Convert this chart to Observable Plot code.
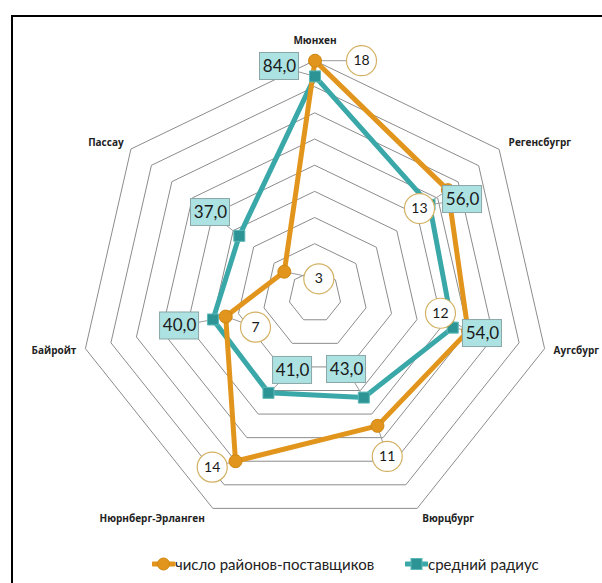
<!DOCTYPE html>
<html>
<head>
<meta charset="utf-8">
<script src="https://cdn.jsdelivr.net/npm/d3@7"></script>
<script src="https://cdn.jsdelivr.net/npm/@observablehq/plot@0.6"></script>
<style>
  html, body { margin: 0; padding: 0; background: #fff; }
  #wrap { position: relative; width: 602px; height: 583px; overflow: hidden; background: #fff; }
  #frame { position: absolute; left: 11px; top: 15px; width: 640px; height: 640px; border: 2px solid #000; box-sizing: border-box; pointer-events: none; }
  #chart { position: absolute; left: 0; top: 0; }
  #legend { position: absolute; left: 0; top: 552px; width: 602px; height: 24px; font-family: Lato, "Open Sans", sans-serif; font-size: 15px; color: #222; }
  .item { position: absolute; top: 0; display: flex; align-items: center; height: 24px; }
  .item svg { display: block; }
</style>
</head>
<body>
<div id="wrap">
  <div id="chart"></div>
  <div id="frame"></div>
  <div id="legend"></div>
</div>
<script>
// ---- data ----
const categories = ["Мюнхен", "Регенсбугрг", "Аугсбург", "Вюрцбург", "Нюрнберг-Эрланген", "Байройт", "Пассау"];
const suppliers = [18, 13, 12, 11, 14, 7, 3];        // число районов-поставщиков
const radius = [84, 56, 54, 43, 41, 40, 37];         // средний радиус
const supplierMax = 18;
const radiusMax = 90;
const ringCount = 9;
const seriesNames = ["число районов-поставщиков", "средний радиус"];

// ---- layout (pixels) ----
const W = 602, H = 530, K = 235.5, CX = 314.5, CY = 295.7;
const supplierLabelOffset = [[46.5, 0], [-28.5, 18.4], [-27.6, -17.9], [9.8, 30.6], [-23.3, 5.9], [29.8, 10.6], [34.5, 7.1]];
const radiusLabelOffset = [[-35.5, -9.9], [33, -5.3], [29.7, 5.9], [-17.3, -28.1], [24.1, -22.4], [-33.4, 6.5], [-28.8, -23.3]];
const axisLabelLayout = [[0, -20, "middle"], [40.7, -7, "middle"], [9, 2, "start"], [31, 10, "middle"], [-60.6, 10, "middle"], [-9, 2, "end"], [-25, -7, "middle"]];

const ORANGE = "#E2951C", ORANGE_DARK = "#D0860F";
const TEAL = "#3AA8A8", TEAL_DARK = "#2C9494";

const n = categories.length;
const angle = i => 2 * Math.PI * i / n;
const px = (u, i) => u * Math.sin(angle(i));
const py = (u, i) => u * Math.cos(angle(i));

// rings
const rings = [];
for (let r = 1; r <= ringCount; r++) {
  for (let i = 0; i < n; i++) rings.push({ring: r, x: px(r / ringCount, i), y: py(r / ringCount, i)});
}

const sup = categories.map((c, i) => {
  const u = suppliers[i] / supplierMax;
  const x = px(u, i), y = py(u, i);
  const [ox, oy] = supplierLabelOffset[i];
  return {cat: c, v: suppliers[i], x, y, lx: x + ox / K, ly: y - oy / K, label: String(suppliers[i])};
});
const rad = categories.map((c, i) => {
  const u = radius[i] / radiusMax;
  const x = px(u, i), y = py(u, i);
  const [ox, oy] = radiusLabelOffset[i];
  return {cat: c, v: radius[i], x, y, lx: x + ox / K, ly: y - oy / K, label: radius[i].toFixed(1).replace(".", ",")};
});
const axisLabels = categories.map((c, i) => {
  const [ox, oy, anchor] = axisLabelLayout[i];
  return {cat: c, x: px(1, i) + ox / K, y: py(1, i) - oy / K, anchor};
});

const rw = 39 / K, rh = 27 / K;
const catText = anchor => Plot.text(axisLabels.filter(d => d.anchor === anchor), {
  x: "x", y: "y", text: "cat", textAnchor: anchor, fontSize: 10, fontWeight: "bold", fill: "#222",
  fontFamily: "'Open Sans', sans-serif"
});

const plot = Plot.plot({
  width: W, height: H,
  margin: 0,
  x: {domain: [(0 - CX) / K, (W - CX) / K], axis: null},
  y: {domain: [(CY - H) / K, CY / K], axis: null},
  style: {background: "transparent"},
  marks: [
    Plot.line(rings, {x: "x", y: "y", z: "ring", curve: "linear-closed", stroke: "#8c8c8c", strokeWidth: 1}),
    Plot.link(sup, {x1: "x", y1: "y", x2: "lx", y2: "ly", stroke: "#9a9a9a", strokeWidth: 1}),
    Plot.link(rad, {x1: "x", y1: "y", x2: "lx", y2: "ly", stroke: "#9a9a9a", strokeWidth: 1}),
    Plot.line(rad, {x: "x", y: "y", curve: "linear-closed", stroke: TEAL, strokeWidth: 5, strokeLinejoin: "round"}),
    Plot.line(sup, {x: "x", y: "y", curve: "linear-closed", stroke: ORANGE, strokeWidth: 5, strokeLinejoin: "round"}),
    Plot.dot(rad, {x: "x", y: "y", symbol: "square", r: 6.2, fill: TEAL_DARK, stroke: "#5cb8b8", strokeWidth: 1}),
    Plot.dot(sup, {x: "x", y: "y", r: 6.5, fill: ORANGE, stroke: ORANGE_DARK, strokeWidth: 1}),
    // data labels: suppliers (circles)
    Plot.dot(sup, {x: "lx", y: "ly", r: 15, fill: "#fff", stroke: "#D3B162", strokeWidth: 1.2}),
    Plot.text(sup, {x: "lx", y: "ly", text: "label", fontSize: 14, fill: "#1a1a1a", fontFamily: "Lato, 'Open Sans', sans-serif"}),
    // data labels: radius (rectangles)
    Plot.rect(rad, {x1: d => d.lx - rw / 2, x2: d => d.lx + rw / 2, y1: d => d.ly - rh / 2, y2: d => d.ly + rh / 2, fill: "#ADE2E2", stroke: "#8aa6a6", strokeWidth: 1}),
    Plot.text(rad, {x: "lx", y: "ly", text: "label", fontSize: 17, fill: "#1a1a1a", fontFamily: "Lato, 'Open Sans', sans-serif"}),
    // category labels
    catText("middle"),
    catText("start"),
    catText("end")
  ]
});
document.getElementById("chart").appendChild(plot);

// legend
const legend = document.getElementById("legend");
function item(left, color, dark, square, name) {
  const div = document.createElement("div");
  div.className = "item";
  div.style.left = left + "px";
  const marker = square
    ? `<rect x="6" y="6.5" width="11" height="11" fill="${dark}" stroke="#5cb8b8"/>`
    : `<circle cx="11.5" cy="12" r="6" fill="${color}" stroke="${dark}"/>`;
  div.innerHTML = `<svg width="23" height="24"><line x1="1" y1="12" x2="22" y2="12" stroke="${color}" stroke-width="5" stroke-linecap="round"/>${marker}</svg><span>${name}</span>`;
  legend.appendChild(div);
}
item(152, ORANGE, ORANGE_DARK, false, seriesNames[0]);
item(405, TEAL, TEAL_DARK, true, seriesNames[1]);
</script>
</body>
</html>
